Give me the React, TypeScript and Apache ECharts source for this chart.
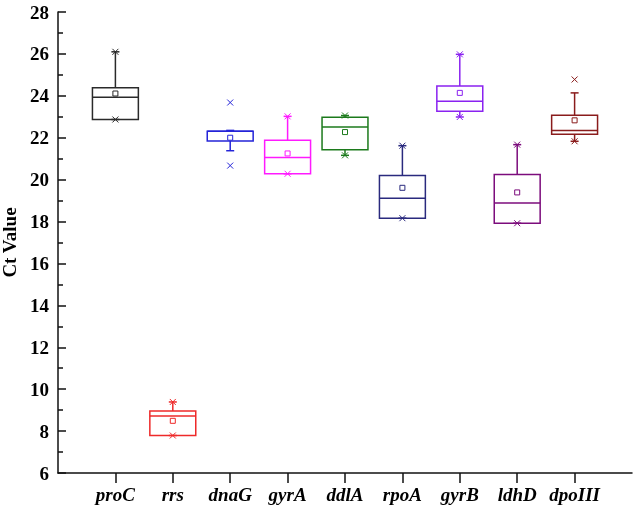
import React, { useEffect, useRef } from "react";
import * as echarts from "echarts";

const categories = ["proC", "rrs", "dnaG", "gyrA", "ddlA", "rpoA", "gyrB", "ldhD", "dpoIII"];
const q1 = [22.87, 7.79, 21.84, 20.28, 21.43, 18.16, 23.26, 17.92, 22.16];
const median = [23.93, 8.72, 22.31, 21.06, 22.51, 19.11, 23.74, 18.89, 22.34];
const q3 = [24.38, 8.96, 22.31, 21.88, 22.98, 20.2, 24.47, 20.25, 23.07];
const whiskerLow = [22.87, 7.79, 21.38, 20.28, 21.16, 18.16, 22.99, 17.92, 21.83];
const whiskerHigh = [26.1, 9.39, 22.35, 23.02, 23.06, 21.62, 25.98, 21.67, 24.14];
const mean = [24.11, 8.49, 22.0, 21.25, 22.27, 19.61, 24.14, 19.39, 22.83];
const lowMark = [22.87, 7.79, 20.67, 20.28, 21.16, 18.16, 22.99, 17.92, 21.83];
const highMark = [26.1, 9.39, 23.68, 23.02, 23.06, 21.62, 25.98, 21.67, 24.78];
const colors = ["#2a2a2a", "#ee2a2a", "#2424d8", "#ff1aff", "#1c7a1c", "#2a2a7e", "#8a22f0", "#7c0c7c", "#8a1c1c"];

const FONT = "'Liberation Serif', 'Times New Roman', serif";

export default function App() {
  const ref = useRef<HTMLDivElement>(null);
  useEffect(() => {
    if (!ref.current) return;
    const chart = echarts.init(ref.current, null, { renderer: "svg" });
    const data = categories.map((_, i) => [
      i + 1,
      whiskerLow[i],
      q1[i],
      median[i],
      q3[i],
      whiskerHigh[i],
      mean[i],
      lowMark[i],
      highMark[i],
    ]);
    const renderItem = (params: any, api: any) => {
      const i = params.dataIndex;
      const c = colors[i];
      const x = api.value(0);
      const band = api.size([1, 0])[0];
      const bw = band * 0.8;
      const cx = api.coord([x, 0])[0];
      const y = (k: number) => api.coord([x, api.value(k)])[1];
      const yWL = y(1), yQ1 = y(2), yMed = y(3), yQ3 = y(4), yWH = y(5), yMean = y(6), yLM = y(7), yHM = y(8);
      const stroke = { stroke: c, lineWidth: 1.5, fill: "none" };
      const cap = 4;
      const xs = 3;
      const cross = (yy: number) => [
        { type: "line", shape: { x1: cx - xs, y1: yy - xs, x2: cx + xs, y2: yy + xs }, style: { stroke: c, lineWidth: 1 } },
        { type: "line", shape: { x1: cx - xs, y1: yy + xs, x2: cx + xs, y2: yy - xs }, style: { stroke: c, lineWidth: 1 } },
      ];
      return {
        type: "group",
        children: [
          { type: "line", shape: { x1: cx, y1: yQ3, x2: cx, y2: yWH }, style: stroke },
          { type: "line", shape: { x1: cx - cap, y1: yWH, x2: cx + cap, y2: yWH }, style: stroke },
          { type: "line", shape: { x1: cx, y1: yQ1, x2: cx, y2: yWL }, style: stroke },
          { type: "line", shape: { x1: cx - cap, y1: yWL, x2: cx + cap, y2: yWL }, style: stroke },
          { type: "rect", shape: { x: cx - bw / 2, y: yQ3, width: bw, height: yQ1 - yQ3 }, style: stroke },
          { type: "line", shape: { x1: cx - bw / 2, y1: yMed, x2: cx + bw / 2, y2: yMed }, style: stroke },
          { type: "rect", shape: { x: cx - 2.5, y: yMean - 2.5, width: 5, height: 5 }, style: { stroke: c, lineWidth: 1, fill: "#fff" } },
          ...cross(yLM),
          ...cross(yHM),
        ],
      };
    };
    chart.setOption({
      animation: false,
      grid: { left: 58, right: 6, top: 12, bottom: 37, containLabel: false, outerBoundsMode: "none" },
      xAxis: {
        type: "value",
        min: 0,
        max: 10,
        interval: 1,
        splitLine: { show: false },
        axisLine: { show: true, lineStyle: { color: "#111", width: 1.5 } },
        axisTick: { show: true, inside: false, length: 10, lineStyle: { color: "#111", width: 1.5 } },
        axisLabel: {
          margin: 12,
          fontFamily: FONT,
          fontSize: 19,
          fontWeight: "bold",
          fontStyle: "italic",
          color: "#000",
          showMinLabel: false,
          showMaxLabel: false,
          formatter: (v: number) => (v >= 1 && v <= categories.length && Number.isInteger(v) ? categories[v - 1] : ""),
        },
      },
      yAxis: {
        type: "value",
        min: 6,
        max: 28,
        interval: 2,
        name: "Ct Value",
        nameLocation: "middle",
        nameGap: 25,
        nameTextStyle: { fontFamily: FONT, fontSize: 19, fontWeight: "bold", color: "#000" },
        splitLine: { show: false },
        axisLine: { show: true, lineStyle: { color: "#111", width: 1.5 } },
        axisTick: { show: true, inside: true, length: 8, lineStyle: { color: "#111", width: 1.5 } },
        minorTick: { show: true, splitNumber: 2, length: 5, lineStyle: { color: "#111", width: 1.5 } },
        axisLabel: { margin: 9, fontFamily: FONT, fontSize: 19, fontWeight: "bold", color: "#000" },
      },
      series: [
        {
          type: "custom",
          renderItem,
          data,
          encode: { x: 0, y: [1, 2, 3, 4, 5, 6, 7, 8] },
          clip: false,
        },
      ],
    });
    return () => chart.dispose();
  }, []);
  return <div ref={ref} style={{ position: "fixed", left: 0, top: 0, width: 638, height: 510 }} />;
}
